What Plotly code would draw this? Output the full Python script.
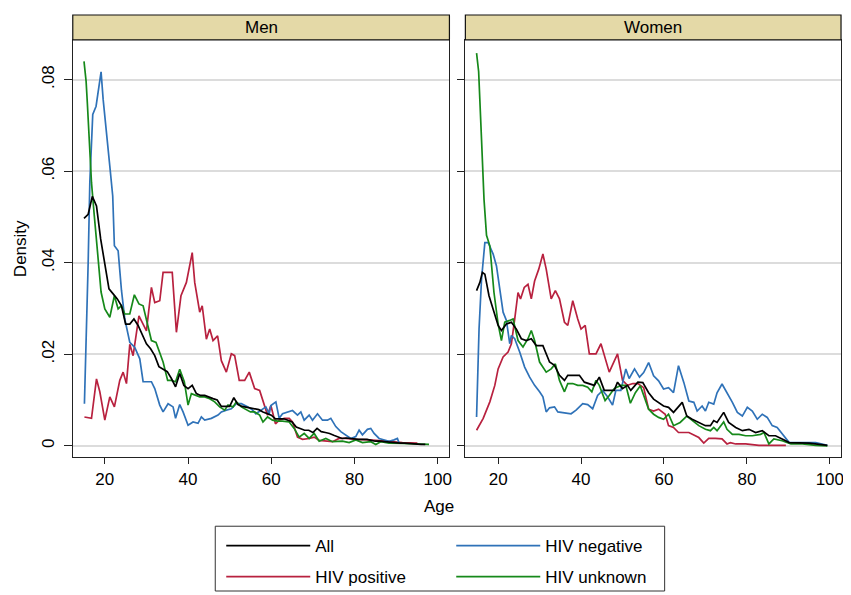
import plotly.graph_objects as go

W, H = 851, 595
OX, OY = 8, 8  # page body margin offset

# ---------------- data ----------------
panels = ["Men", "Women"]
series_names = ["All", "HIV negative", "HIV positive", "HIV unknown"]
tick_vals = [0, 0.02, 0.04, 0.06, 0.08]
tick_text = ["0", ".02", ".04", ".06", ".08"]
x_ticks = [20, 40, 60, 80, 100]

men_all_age = list(range(15, 98))
men_all = [0.0497, 0.0506, 0.0545, 0.0524, 0.0452, 0.0393, 0.0343, 0.0332, 0.0321, 0.0306,
           0.0266, 0.0266, 0.0277, 0.0263, 0.0241, 0.0223, 0.0212, 0.0197, 0.0173, 0.0168,
           0.0162, 0.0147, 0.0129, 0.0158, 0.0132, 0.0125, 0.0132, 0.0114, 0.0110, 0.0110,
           0.0106, 0.0103, 0.0100, 0.0086, 0.0086, 0.0086, 0.0105, 0.0090, 0.0086, 0.0084,
           0.0083, 0.0081, 0.0079, 0.0074, 0.0070, 0.0067, 0.0059, 0.0059, 0.0059, 0.0056,
           0.0052, 0.0041, 0.0038, 0.0034, 0.0034, 0.0029, 0.0038, 0.0031, 0.0029, 0.0027,
           0.0023, 0.0020, 0.0016, 0.0017, 0.0016, 0.0014, 0.0014, 0.0014, 0.0014, 0.0012,
           0.0010, 0.0010, 0.0009, 0.0009, 0.0008, 0.0007, 0.0006, 0.0006, 0.0005, 0.0005,
           0.0004, 0.0003, 0.0003]

men_neg_age = [15.1, 15.5, 16.0, 16.4, 17.1, 17.9, 19.1, 19.6, 20.4, 21.2, 21.9, 22.3, 23.2, 24.0,
               24.8, 26.0, 27.2, 28.4, 29.2, 31.2, 32.0, 33.2, 34.0, 35.2, 36.4, 37.0, 38.0, 38.8,
               40.0, 41.2, 42.4, 43.2, 44.0, 45.6, 47.2, 48.0, 49.2, 50.4, 51.6, 52.8, 54.4, 55.5,
               56.3, 57.5, 58.7, 59.5, 59.9, 61.1, 61.9, 62.7, 63.9, 65.1, 66.3, 67.1, 67.9, 69.1,
               69.9, 71.1, 72.3, 73.5, 74.3, 75.5, 76.7, 77.9, 79.1, 80.3, 81.1, 81.9, 83.1, 83.9,
               84.7, 85.9, 87.1, 88.3, 89.5, 90.3, 90.7]
men_neg = [0.0092, 0.0220, 0.0400, 0.0576, 0.0724, 0.0742, 0.0817, 0.0757, 0.0691, 0.0611, 0.0546,
           0.0437, 0.0426, 0.0340, 0.0277, 0.0226, 0.0215, 0.0190, 0.0140, 0.0140, 0.0125, 0.0089,
           0.0074, 0.0092, 0.0085, 0.0060, 0.0090, 0.0074, 0.0045, 0.0052, 0.0049, 0.0063, 0.0056,
           0.0060, 0.0067, 0.0074, 0.0078, 0.0081, 0.0092, 0.0092, 0.0085, 0.0078, 0.0070, 0.0077,
           0.0085, 0.0070, 0.0088, 0.0096, 0.0060, 0.0070, 0.0074, 0.0077, 0.0067, 0.0074, 0.0056,
           0.0067, 0.0056, 0.0070, 0.0056, 0.0056, 0.0060, 0.0042, 0.0031, 0.0024, 0.0016, 0.0020,
           0.0034, 0.0024, 0.0036, 0.0038, 0.0027, 0.0016, 0.0013, 0.0010, 0.0013, 0.0016, 0.0006]

men_pos_age = [15.1, 16.8, 18.0, 18.8, 20.0, 21.2, 22.3, 23.6, 24.4, 25.2, 26.0, 26.8, 28.2, 30.0,
               31.2, 32.0, 33.2, 34.0, 36.2, 37.2, 38.3, 39.6, 41.0, 41.6, 42.8, 43.4, 44.4, 45.2,
               46.0, 47.1, 48.0, 49.2, 50.4, 51.2, 52.3, 53.6, 54.7, 56.0, 57.2, 58.3, 59.1, 59.9,
               61.0, 61.9, 63.1, 64.3, 65.1, 66.3, 67.5, 69.1, 70.3, 71.5, 74.7, 76.3, 77.9, 80.3,
               83.5, 87.5, 91.5, 95.1]
men_pos = [0.0063, 0.0060, 0.0146, 0.0118, 0.0056, 0.0107, 0.0085, 0.0143, 0.0161, 0.0136, 0.0222,
           0.0197, 0.0284, 0.0251, 0.0346, 0.0313, 0.0317, 0.0379, 0.0379, 0.0248, 0.0328, 0.0357,
           0.0422, 0.0357, 0.0292, 0.0306, 0.0233, 0.0255, 0.0230, 0.0240, 0.0186, 0.0161, 0.0201,
           0.0197, 0.0143, 0.0143, 0.0161, 0.0125, 0.0121, 0.0089, 0.0067, 0.0088, 0.0048, 0.0056,
           0.0060, 0.0060, 0.0052, 0.0019, 0.0014, 0.0016, 0.0019, 0.0012, 0.0009, 0.0016, 0.0016,
           0.0014, 0.0013, 0.0010, 0.0007, 0.0006]

men_unk_age = [15.0, 15.5, 15.8, 16.3, 16.8, 17.4, 18.0, 18.4, 19.1, 20.0, 21.2, 22.3, 23.2, 24.0,
               24.8, 26.0, 27.1, 28.2, 29.2, 30.3, 31.2, 32.3, 33.2, 34.0, 35.1, 36.0, 37.0, 38.0,
               39.1, 40.0, 40.8, 41.8, 42.8, 44.0, 45.2, 46.4, 47.6, 48.8, 49.6, 50.8, 51.6, 52.8,
               54.0, 55.0, 56.0, 57.2, 58.0, 59.1, 60.3, 61.5, 62.7, 64.3, 65.5, 66.7, 67.9, 69.1,
               70.3, 71.5, 73.1, 74.7, 77.1, 78.7, 80.3, 81.9, 83.9, 85.1, 86.3, 88.3, 91.5, 94.7,
               97.9]
men_unk = [0.0840, 0.0797, 0.0749, 0.0655, 0.0575, 0.0510, 0.0437, 0.0408, 0.0336, 0.0299, 0.0281,
           0.0328, 0.0299, 0.0306, 0.0288, 0.0288, 0.0330, 0.0310, 0.0306, 0.0263, 0.0230, 0.0226,
           0.0201, 0.0183, 0.0143, 0.0143, 0.0140, 0.0167, 0.0140, 0.0089, 0.0114, 0.0110, 0.0107,
           0.0107, 0.0103, 0.0096, 0.0085, 0.0078, 0.0089, 0.0085, 0.0096, 0.0085, 0.0078, 0.0074,
           0.0074, 0.0067, 0.0052, 0.0063, 0.0056, 0.0054, 0.0054, 0.0052, 0.0038, 0.0019, 0.0027,
           0.0016, 0.0027, 0.0010, 0.0016, 0.0009, 0.0010, 0.0007, 0.0013, 0.0007, 0.0009, 0.0003,
           0.0009, 0.0006, 0.0005, 0.0004, 0.0003]

women_all_age = [14.8, 15.6, 16.2, 16.8, 17.8, 18.8, 20.0, 20.8, 22.0, 23.2, 24.4, 25.6, 26.8, 28.0,
                 29.2, 30.8, 32.4, 33.6, 34.8, 36.0, 36.8, 38.0, 39.6, 40.8, 42.0, 43.2, 44.4, 45.6,
                 48.0, 48.8, 50.0, 51.2, 52.0, 53.7, 54.9, 56.3, 57.5, 58.7, 59.9, 61.1, 62.3, 64.4,
                 65.5, 66.8, 68.4, 70.0, 71.2, 72.0, 72.8, 74.4, 75.6, 77.3, 78.9, 80.5, 82.1, 83.7,
                 85.3, 86.9, 88.5, 90.2, 95.0, 99.4]
women_all = [0.0339, 0.0357, 0.0379, 0.0375, 0.0328, 0.0299, 0.0263, 0.0252, 0.0266, 0.0270, 0.0255,
             0.0234, 0.0230, 0.0234, 0.0219, 0.0219, 0.0183, 0.0176, 0.0154, 0.0143, 0.0154, 0.0154,
             0.0154, 0.0139, 0.0136, 0.0132, 0.0150, 0.0121, 0.0121, 0.0139, 0.0125, 0.0132, 0.0121,
             0.0139, 0.0138, 0.0116, 0.0102, 0.0095, 0.0087, 0.0084, 0.0073, 0.0095, 0.0065, 0.0058,
             0.0051, 0.0044, 0.0044, 0.0055, 0.0051, 0.0073, 0.0051, 0.0040, 0.0033, 0.0036, 0.0029,
             0.0033, 0.0022, 0.0022, 0.0015, 0.0007, 0.0006, 0.0001]

women_neg_age = [14.8, 15.4, 16.0, 16.8, 17.6, 18.8, 19.6, 20.4, 21.2, 22.0, 22.8, 23.2, 24.0, 25.2,
                 26.4, 27.6, 28.8, 30.0, 30.8, 31.6, 32.4, 33.6, 34.4, 37.6, 38.8, 40.4, 41.6, 42.8,
                 44.0, 45.2, 46.4, 47.6, 48.4, 49.6, 50.8, 51.6, 52.9, 54.1, 55.1, 56.3, 57.5, 58.7,
                 59.9, 61.1, 62.3, 63.5, 64.8, 66.0, 67.2, 68.0, 69.2, 70.0, 70.8, 72.0, 72.8, 74.0,
                 75.2, 76.5, 77.7, 78.9, 80.1, 81.3, 82.5, 83.7, 84.9, 86.1, 87.3, 89.0, 90.2, 93.4,
                 96.6, 99.4]
women_neg = [0.0063, 0.0255, 0.0364, 0.0444, 0.0444, 0.0419, 0.0393, 0.0343, 0.0292, 0.0274, 0.0223,
             0.0241, 0.0234, 0.0205, 0.0172, 0.0150, 0.0132, 0.0118, 0.0107, 0.0074, 0.0083, 0.0085,
             0.0074, 0.0070, 0.0078, 0.0092, 0.0090, 0.0081, 0.0110, 0.0121, 0.0107, 0.0089, 0.0121,
             0.0121, 0.0168, 0.0147, 0.0168, 0.0150, 0.0160, 0.0182, 0.0153, 0.0142, 0.0124, 0.0127,
             0.0116, 0.0175, 0.0138, 0.0098, 0.0095, 0.0076, 0.0087, 0.0076, 0.0095, 0.0091, 0.0116,
             0.0135, 0.0116, 0.0095, 0.0073, 0.0065, 0.0084, 0.0076, 0.0058, 0.0069, 0.0062, 0.0044,
             0.0040, 0.0022, 0.0007, 0.0007, 0.0007, 0.0001]

women_pos_age = [14.8, 16.4, 18.0, 19.2, 20.0, 21.2, 22.4, 23.2, 24.0, 24.8, 25.4, 26.3, 27.2, 28.0,
                 28.8, 29.8, 30.8, 31.6, 32.8, 33.8, 34.8, 36.0, 36.8, 38.0, 39.2, 40.0, 41.0, 42.0,
                 43.6, 44.8, 46.8, 48.8, 50.0, 51.2, 52.5, 53.7, 55.1, 56.3, 57.5, 58.7, 60.3, 61.1,
                 62.3, 63.5, 66.0, 67.6, 68.4, 69.6, 70.8, 72.4, 74.0, 75.2, 76.0, 77.3, 79.7, 82.9,
                 89.4]
women_pos = [0.0034, 0.0060, 0.0096, 0.0132, 0.0168, 0.0194, 0.0205, 0.0223, 0.0277, 0.0335, 0.0321,
             0.0346, 0.0353, 0.0321, 0.0360, 0.0386, 0.0419, 0.0386, 0.0321, 0.0339, 0.0321, 0.0270,
             0.0263, 0.0317, 0.0277, 0.0255, 0.0263, 0.0201, 0.0201, 0.0223, 0.0161, 0.0201, 0.0143,
             0.0132, 0.0136, 0.0136, 0.0127, 0.0080, 0.0076, 0.0080, 0.0069, 0.0044, 0.0040, 0.0029,
             0.0029, 0.0022, 0.0018, 0.0006, 0.0016, 0.0016, 0.0015, 0.0004, 0.0007, 0.0004, 0.0004,
             0.0001, 0.0001]

women_unk_age = [14.8, 15.3, 16.0, 16.6, 17.2, 18.0, 19.0, 20.0, 20.8, 21.6, 22.8, 23.6, 24.8, 26.0,
                 27.2, 28.0, 28.8, 30.0, 31.6, 32.8, 33.8, 34.8, 36.0, 36.8, 38.0, 39.2, 40.4, 41.6,
                 42.6, 43.6, 44.4, 45.8, 46.8, 48.0, 49.6, 50.8, 51.9, 53.1, 54.3, 55.1, 56.3, 57.5,
                 58.7, 59.9, 61.1, 62.3, 63.9, 65.5, 66.8, 68.4, 70.0, 71.2, 72.0, 72.8, 74.4, 75.2,
                 76.5, 78.1, 79.7, 81.3, 83.3, 84.1, 85.3, 86.5, 88.5, 90.6, 93.4, 96.6, 99.4]
women_unk = [0.0858, 0.0818, 0.0669, 0.0538, 0.0460, 0.0437, 0.0335, 0.0266, 0.0230, 0.0270, 0.0274,
             0.0277, 0.0230, 0.0216, 0.0234, 0.0252, 0.0230, 0.0183, 0.0161, 0.0168, 0.0179, 0.0143,
             0.0118, 0.0136, 0.0136, 0.0132, 0.0132, 0.0128, 0.0118, 0.0143, 0.0132, 0.0099, 0.0110,
             0.0125, 0.0132, 0.0132, 0.0093, 0.0116, 0.0131, 0.0109, 0.0080, 0.0069, 0.0062, 0.0058,
             0.0069, 0.0044, 0.0051, 0.0065, 0.0055, 0.0044, 0.0036, 0.0033, 0.0040, 0.0033, 0.0052,
             0.0036, 0.0025, 0.0025, 0.0022, 0.0022, 0.0025, 0.0029, 0.0004, 0.0015, 0.0011, 0.0004,
             0.0004, 0.0001, 0.0000]

colors = {"All": "#000000", "HIV negative": "#2F72B8",
          "HIV positive": "#B8213F", "HIV unknown": "#16891A"}

panel_data = {
    "Men": {"All": (men_all_age, men_all), "HIV negative": (men_neg_age, men_neg),
            "HIV positive": (men_pos_age, men_pos), "HIV unknown": (men_unk_age, men_unk)},
    "Women": {"All": (women_all_age, women_all), "HIV negative": (women_neg_age, women_neg),
              "HIV positive": (women_pos_age, women_pos), "HIV unknown": (women_unk_age, women_unk)},
}

# ---------------- layout geometry (page pixels) ----------------
FONT = "Arial, Liberation Sans, sans-serif"
FS = 17
FW, FH = W - OX, H - OY
panel_px = {"Men": (73, 451), "Women": (467, 844)}
plot_top, plot_bot = 40, 459
strip_top = 15


def px_x(v):
    return (v - OX) / FW


def px_y(v):
    return 1 - (v - OY) / FH


fig = go.Figure()

draw_order = ["HIV positive", "HIV negative", "HIV unknown", "All"]
legend_row = {"All": "legend", "HIV negative": "legend",
              "HIV positive": "legend2", "HIV unknown": "legend2"}
legend_rank = {"All": 1, "HIV negative": 2, "HIV positive": 1, "HIV unknown": 2}

for i, p in enumerate(panels):
    xa = "x" if i == 0 else "x2"
    ya = "y" if i == 0 else "y2"
    for name in draw_order:
        ages, vals = panel_data[p][name]
        fig.add_trace(go.Scatter(
            x=ages, y=vals, mode="lines", name=name,
            line=dict(color=colors[name], width=1.7),
            xaxis=xa, yaxis=ya, showlegend=(i == 0),
            legend=legend_row[name], legendrank=legend_rank[name],
            hoverinfo="skip"))

axis_common = dict(showline=True, mirror=True, linecolor="#222222", linewidth=1,
                   ticks="outside", tickcolor="#222222", zeroline=False,
                   tickfont=dict(family=FONT, size=FS, color="#000000"))

ydom = [px_y(plot_bot), px_y(plot_top)]
yrange = [-0.00255, 0.0887]
xrange_m = [12.3, 102.8]
xrange_w = [12.1, 102.7]

leg_common = dict(orientation="h", xanchor="left", yanchor="middle",
                  entrywidth=131, itemwidth=84, font=dict(family=FONT, size=FS),
                  bgcolor="rgba(0,0,0,0)", traceorder="normal", tracegroupgap=0)

fig.update_layout(
    width=FW, height=FH,
    margin=dict(l=0, r=0, t=0, b=0),
    paper_bgcolor="white", plot_bgcolor="white",
    font=dict(family=FONT, size=FS, color="#000000"),
    xaxis=dict(domain=[px_x(panel_px["Men"][0]), px_x(panel_px["Men"][1])], range=xrange_m,
               tickvals=x_ticks, ticklen=6, showgrid=False, anchor="y", **axis_common),
    xaxis2=dict(domain=[px_x(panel_px["Women"][0]), px_x(panel_px["Women"][1])], range=xrange_w,
                tickvals=x_ticks, ticklen=6, showgrid=False, anchor="y2", **axis_common),
    yaxis=dict(domain=ydom, range=yrange, tickvals=tick_vals, ticktext=tick_text,
               tickangle=-90, ticklen=8, ticklabelstandoff=3, showgrid=True,
               gridcolor="#DCDCDC", gridwidth=1.5, anchor="x", **axis_common),
    yaxis2=dict(domain=ydom, range=yrange, tickvals=tick_vals, ticktext=tick_text,
                showticklabels=False, ticklen=7, showgrid=True, gridcolor="#DCDCDC",
                gridwidth=1.5, anchor="x2", **axis_common),
    legend=dict(x=px_x(222), y=px_y(548), **leg_common),
    legend2=dict(x=px_x(222), y=px_y(579), **leg_common),
)

shapes = []
annotations = []
for p in panels:
    x0, x1 = panel_px[p]
    shapes.append(dict(type="rect", xref="paper", yref="paper",
                       x0=px_x(x0), x1=px_x(x1), y0=px_y(plot_top), y1=px_y(strip_top),
                       fillcolor="#E4D9A7", line=dict(color="#111111", width=1.2)))
    annotations.append(dict(text=p, xref="paper", yref="paper", x=px_x((x0 + x1) / 2),
                            y=px_y((strip_top + plot_top) / 2), showarrow=False,
                            xanchor="center", yanchor="middle",
                            font=dict(family=FONT, size=FS, color="#000000")))

# legend frame
shapes.append(dict(type="rect", xref="paper", yref="paper",
                   x0=px_x(216), x1=px_x(667), y0=px_y(593), y1=px_y(528),
                   fillcolor="rgba(0,0,0,0)", line=dict(color="#333333", width=1)))

annotations.append(dict(text="Age", xref="paper", yref="paper", x=px_x(441), y=px_y(508),
                        showarrow=False, xanchor="center", yanchor="middle",
                        font=dict(family=FONT, size=FS)))
annotations.append(dict(text="Density", xref="paper", yref="paper", x=px_x(20), y=px_y(249),
                        showarrow=False, xanchor="center", yanchor="middle", textangle=-90,
                        font=dict(family=FONT, size=FS)))

fig.update_layout(shapes=shapes, annotations=annotations)

fig.write_html("out.html")
